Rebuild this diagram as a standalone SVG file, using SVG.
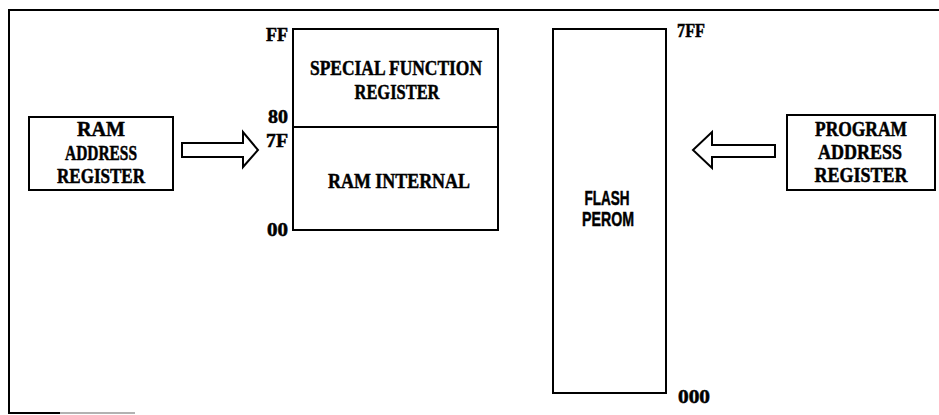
<svg xmlns="http://www.w3.org/2000/svg" width="939" height="415" viewBox="0 0 939 415">
<style>
.box{fill:#fff;stroke:#000;stroke-width:2}
.frame{fill:none;stroke:#000;stroke-width:2}
text{stroke:#000;stroke-width:0.5}
.t{font-family:"Liberation Serif","Times New Roman",serif;font-weight:bold;font-size:21px;fill:#000;text-anchor:middle}
.t2{font-family:"Liberation Serif","Times New Roman",serif;font-weight:bold;font-size:22px;fill:#000;text-anchor:middle}
.s{font-family:"Liberation Sans",Arial,sans-serif;font-weight:bold;font-size:20px;fill:#000;text-anchor:middle}
.lbl{font-family:"Liberation Serif","Times New Roman",serif;font-weight:bold;font-size:19px;fill:#000}
.arrow{fill:#fff;stroke:#000;stroke-width:2;stroke-linejoin:miter}
</style>
<rect width="939" height="415" fill="#fff"/>
<g id="frame">
<path class="frame" d="M939,10 L9,10 L9,413 L60,413"/>
<path d="M60,413 L135,413" stroke="#999" stroke-width="1.5" fill="none"/>
</g>
<g id="ram-address-register">
<rect class="box" x="29" y="117" width="144" height="73"/>
<text class="t" x="101" y="136" textLength="48" lengthAdjust="spacingAndGlyphs">RAM</text>
<text class="t" x="101" y="160" textLength="72" lengthAdjust="spacingAndGlyphs">ADDRESS</text>
<text class="t" x="101" y="183" textLength="88" lengthAdjust="spacingAndGlyphs">REGISTER</text>
</g>
<g id="internal-memory">
<rect class="box" x="293" y="29" width="205" height="201"/>
<line x1="293" y1="127" x2="498" y2="127" stroke="#000" stroke-width="2"/>
<text class="t2" x="396" y="75" textLength="172" lengthAdjust="spacingAndGlyphs">SPECIAL FUNCTION</text>
<text class="t2" x="397" y="99" textLength="85" lengthAdjust="spacingAndGlyphs">REGISTER</text>
<text class="t2" x="399" y="188" textLength="142" lengthAdjust="spacingAndGlyphs">RAM INTERNAL</text>
<text class="lbl" x="266" y="41" textLength="22" lengthAdjust="spacingAndGlyphs">FF</text>
<text class="lbl" x="268" y="123" textLength="20" lengthAdjust="spacingAndGlyphs">80</text>
<text class="lbl" x="266" y="147" textLength="22" lengthAdjust="spacingAndGlyphs">7F</text>
<text class="lbl" x="267" y="236" textLength="21" lengthAdjust="spacingAndGlyphs">00</text>
</g>
<g id="flash-perom">
<rect class="box" x="553" y="29" width="113" height="364"/>
<text class="s" x="607" y="205" textLength="45" lengthAdjust="spacingAndGlyphs">FLASH</text>
<text class="s" x="608" y="226" textLength="52" lengthAdjust="spacingAndGlyphs">PEROM</text>
<text class="lbl" x="677" y="37" textLength="28" lengthAdjust="spacingAndGlyphs">7FF</text>
<text class="lbl" x="678" y="403" textLength="32" lengthAdjust="spacingAndGlyphs">000</text>
</g>
<g id="program-address-register">
<rect class="box" x="787" y="115" width="148" height="75"/>
<text class="t" x="861" y="136" textLength="92" lengthAdjust="spacingAndGlyphs">PROGRAM</text>
<text class="t" x="860" y="159" textLength="84" lengthAdjust="spacingAndGlyphs">ADDRESS</text>
<text class="t" x="861" y="182" textLength="93" lengthAdjust="spacingAndGlyphs">REGISTER</text>
</g>
<g id="connectors">
<path class="arrow" d="M182,143 L243,143 L243,132 L258,150 L243,167 L243,157 L182,157 Z"/>
<path class="arrow" d="M775,145 L712,145 L712,132 L693,150 L712,168 L712,157 L775,157 Z"/>
</g>
</svg>
